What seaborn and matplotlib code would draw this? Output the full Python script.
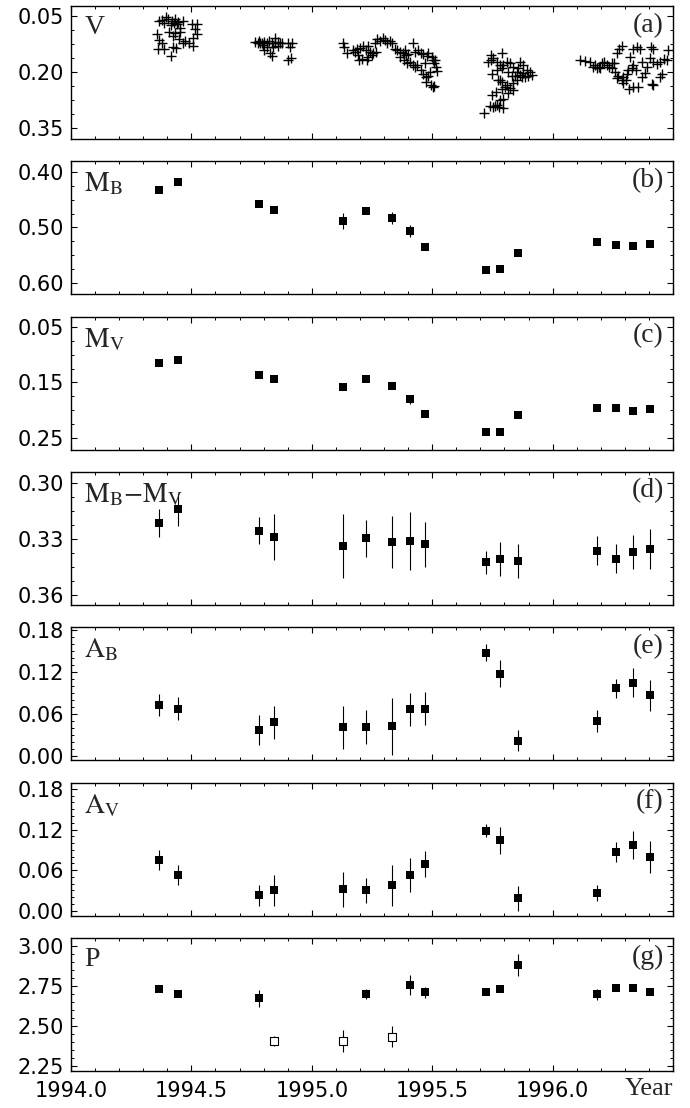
import matplotlib
matplotlib.use("Agg")
import matplotlib.pyplot as plt
import seaborn as sns
import numpy as np
import pandas as pd
from matplotlib.ticker import MultipleLocator, AutoMinorLocator, FixedLocator, FuncFormatter

# ---------------- data ----------------
# panel (a): V light curve (year, mag)
v_year = [
    1994.367, 1994.379, 1994.393, 1994.401, 1994.418, 1994.428, 1994.432, 1994.439, 1994.446, 1994.453,
    1994.453, 1994.432, 1994.422, 1994.356, 1994.367, 1994.377, 1994.363, 1994.386, 1994.414, 1994.425,
    1994.436, 1994.466, 1994.473, 1994.464, 1994.501, 1994.522, 1994.516, 1994.522, 1994.508, 1994.505,
    1994.491, 1994.450, 1994.407, 1994.415, 1994.388,
    1994.766, 1994.781, 1994.794, 1994.803, 1994.812, 1994.821, 1994.836, 1994.849, 1994.858, 1994.876,
    1994.839, 1994.812, 1994.803, 1994.825, 1994.836, 1994.858, 1994.903, 1994.916, 1994.909, 1994.903,
    1994.912, 1994.785, 1994.776, 1994.799, 1994.867, 1994.849,
    1995.131, 1995.134, 1995.145, 1995.170, 1995.179, 1995.186, 1995.193, 1995.197, 1995.207, 1995.200,
    1995.214, 1995.225, 1995.235, 1995.242, 1995.249, 1995.235, 1995.228, 1995.256, 1995.267, 1995.262,
    1995.272, 1995.283, 1995.294, 1995.304, 1995.314, 1995.325, 1995.332, 1995.346, 1995.355, 1995.366,
    1995.377, 1995.387, 1995.391, 1995.401, 1995.419, 1995.429, 1995.443, 1995.452, 1995.462, 1995.477,
    1995.484, 1995.498, 1995.502, 1995.507, 1995.516, 1995.521, 1995.366, 1995.383, 1995.394, 1995.408,
    1995.419, 1995.429, 1995.436, 1995.452, 1995.462, 1995.474, 1995.484, 1995.474, 1995.493, 1995.502,
    1995.507, 1995.470, 1995.491, 1995.512,
    1995.715, 1995.740, 1995.751, 1995.761, 1995.771, 1995.779, 1995.793, 1995.782, 1995.793, 1995.747,
    1995.765, 1995.788, 1995.802, 1995.823, 1995.837, 1995.816, 1995.809, 1995.775, 1995.782, 1995.788,
    1995.747, 1995.768, 1995.788, 1995.782, 1995.795, 1995.809, 1995.823, 1995.837, 1995.733, 1995.743,
    1995.754, 1995.768, 1995.788, 1995.743, 1995.865, 1995.878, 1995.851, 1995.865, 1995.878, 1995.892,
    1995.906, 1995.913, 1995.899, 1995.885, 1995.871, 1995.844, 1995.858, 1995.816, 1995.830, 1995.851,
    1995.837,
    1996.114, 1996.135, 1996.155, 1996.176, 1996.183, 1996.194, 1996.204, 1996.213, 1996.224, 1996.236,
    1996.245, 1996.255, 1996.266, 1996.277, 1996.287, 1996.259, 1996.273, 1996.287, 1996.294, 1996.308,
    1996.315, 1996.328, 1996.322, 1996.335, 1996.349, 1996.363, 1996.318, 1996.335, 1996.356, 1996.370,
    1996.384, 1996.346, 1996.335, 1996.407, 1996.418, 1996.404, 1996.415, 1996.432, 1996.446, 1996.462,
    1996.474, 1996.481, 1996.453, 1996.446, 1996.411, 1996.418, 1996.391, 1996.370, 1996.294, 1996.305,
    1996.266, 1996.245, 1996.197, 1996.169,
]
v_mag = [
    0.0625, 0.0607, 0.0536, 0.0580, 0.0634, 0.0679, 0.0590, 0.0714, 0.0652, 0.0830,
    0.0920, 0.0964, 0.1036, 0.0991, 0.1143, 0.1232, 0.1393, 0.1393, 0.1571, 0.1321,
    0.1366, 0.1214, 0.1161, 0.0625, 0.0714, 0.0714, 0.0857, 0.0982, 0.1098, 0.1304,
    0.1232, 0.1125, 0.0920, 0.0741, 0.0679,
    0.1187, 0.1160, 0.1214, 0.1187, 0.1232, 0.1160, 0.1214, 0.1097, 0.1187, 0.1232,
    0.1322, 0.1322, 0.1413, 0.1503, 0.1575, 0.1304, 0.1214, 0.1214, 0.1341, 0.1666,
    0.1620, 0.1232, 0.1214, 0.1277, 0.1232, 0.1232,
    0.1232, 0.1321, 0.1482, 0.1411, 0.1455, 0.1393, 0.1545, 0.1679, 0.1661, 0.1366,
    0.1304, 0.1411, 0.1304, 0.1455, 0.1545, 0.1589, 0.1679, 0.1500, 0.1455, 0.1214,
    0.1125, 0.1161, 0.1098, 0.1143, 0.1214, 0.1161, 0.1232, 0.1393, 0.1411, 0.1455,
    0.1482, 0.1411, 0.1545, 0.1518, 0.1214, 0.1455, 0.1411, 0.1482, 0.1518, 0.1571,
    0.1482, 0.1589, 0.1679, 0.1768, 0.1857, 0.1964, 0.1589, 0.1679, 0.1768, 0.1723,
    0.1813, 0.1857, 0.1813, 0.1946, 0.2054, 0.2143, 0.2107, 0.2259, 0.2348, 0.2411,
    0.2375, 0.1768, 0.1991, 0.1679,
    0.3089, 0.2911, 0.2929, 0.2911, 0.2884, 0.2946, 0.2973, 0.2750, 0.2732, 0.2616,
    0.2527, 0.2464, 0.2411, 0.2438, 0.2482, 0.2571, 0.2348, 0.2214, 0.2214, 0.2259,
    0.2054, 0.1946, 0.1902, 0.1813, 0.1813, 0.1723, 0.1768, 0.1857, 0.1723, 0.1679,
    0.1634, 0.1723, 0.1500, 0.1545, 0.1723, 0.1813, 0.1991, 0.2080, 0.2018, 0.1946,
    0.1991, 0.2080, 0.2107, 0.2143, 0.2125, 0.2107, 0.1902, 0.1991, 0.2107, 0.2214,
    0.2304,
    0.1679, 0.1696, 0.1723, 0.1813, 0.1902, 0.1857, 0.1768, 0.1723, 0.1813, 0.1857,
    0.1902, 0.1768, 0.1500, 0.1393, 0.1304, 0.1991, 0.2107, 0.2214, 0.2143, 0.2054,
    0.1946, 0.1902, 0.1589, 0.1393, 0.1339, 0.1393, 0.2464, 0.2411, 0.2411, 0.2143,
    0.2036, 0.1946, 0.1813, 0.1321, 0.1393, 0.1634, 0.1723, 0.1786, 0.1723, 0.1661,
    0.1679, 0.1411, 0.2054, 0.2143, 0.2321, 0.2357, 0.1857, 0.1723, 0.2304, 0.2214,
    0.2170, 0.1768, 0.1902, 0.1857,
]

# epochs of the seasonal fits (panels b-g)
epoch = [1994.365, 1994.443, 1994.781, 1994.845, 1995.131, 1995.226, 1995.334, 1995.409,
         1995.469, 1995.724, 1995.783, 1995.858, 1996.184, 1996.263, 1996.334, 1996.405]

mb = [0.4324, 0.4186, 0.4580, 0.4688, 0.4885, 0.4706, 0.4831, 0.5064,
      0.5350, 0.5762, 0.5744, 0.5458, 0.5260, 0.5315, 0.5339, 0.5290]
mb_err = [0.004, 0.004, 0.005, 0.006, 0.014, 0.006, 0.010, 0.010,
          0.006, 0.004, 0.004, 0.004, 0.004, 0.004, 0.004, 0.004]

mv = [0.1152, 0.1098, 0.1367, 0.1438, 0.1582, 0.1438, 0.1564, 0.1797,
      0.2065, 0.2388, 0.2388, 0.2083, 0.1958, 0.1958, 0.2006, 0.1976]
mv_err = [0.004, 0.004, 0.004, 0.004, 0.006, 0.004, 0.005, 0.008,
          0.004, 0.004, 0.004, 0.004, 0.004, 0.004, 0.004, 0.004]

bv = [0.3215, 0.3140, 0.3255, 0.3290, 0.3337, 0.3296, 0.3317, 0.3308,
      0.3328, 0.3425, 0.3409, 0.3418, 0.3362, 0.3405, 0.3368, 0.3355]
bv_err = [0.0075, 0.0087, 0.0073, 0.0124, 0.0173, 0.0099, 0.0139, 0.0155,
          0.0121, 0.0064, 0.0091, 0.0090, 0.0078, 0.0078, 0.0090, 0.0107]

ab = [0.0728, 0.0681, 0.0379, 0.0487, 0.0417, 0.0417, 0.0426, 0.0671,
      0.0681, 0.1478, 0.1180, 0.0223, 0.0506, 0.0968, 0.1049, 0.0869]
ab_err = [0.0160, 0.0165, 0.0212, 0.0236, 0.0307, 0.0243, 0.0410, 0.0236,
          0.0240, 0.0125, 0.0189, 0.0146, 0.0160, 0.0130, 0.0210, 0.0220]

av = [0.0751, 0.0528, 0.0226, 0.0300, 0.0315, 0.0300, 0.0374, 0.0528,
      0.0687, 0.1183, 0.1044, 0.0186, 0.0260, 0.0870, 0.0969, 0.0796]
av_err = [0.0144, 0.0149, 0.0161, 0.0230, 0.0260, 0.0180, 0.0297, 0.0248,
          0.0190, 0.0097, 0.0198, 0.0183, 0.0114, 0.0146, 0.0206, 0.0240]

p_year = [1994.365, 1994.443, 1994.781, 1995.226, 1995.409, 1995.469, 1995.724,
          1995.783, 1995.858, 1996.184, 1996.263, 1996.334, 1996.405]
p_val = [2.729, 2.698, 2.673, 2.698, 2.754, 2.710, 2.715, 2.729, 2.881, 2.698, 2.735, 2.735, 2.715]
p_err = [0.012, 0.012, 0.054, 0.030, 0.062, 0.036, 0.012, 0.012, 0.068, 0.033, 0.012, 0.012, 0.012]
p2_year = [1994.845, 1995.131, 1995.334]
p2_val = [2.406, 2.406, 2.433]
p2_err = [0.030, 0.068, 0.066]

panel_names = ["V", r"$\mathrm{M_B}$", r"$\mathrm{M_V}$", r"$\mathrm{M_B{-}M_V}$",
               r"$\mathrm{A_B}$", r"$\mathrm{A_V}$", "P"]
panel_tags = ["(a)", "(b)", "(c)", "(d)", "(e)", "(f)", "(g)"]
y_ticks = [[0.05, 0.20, 0.35], [0.40, 0.50, 0.60], [0.05, 0.15, 0.25], [0.30, 0.33, 0.36],
           [0.00, 0.06, 0.12, 0.18], [0.00, 0.06, 0.12, 0.18], [2.25, 2.50, 2.75, 3.00]]
y_lims = [(0.3795, 0.0232), (0.6197, 0.3814), (0.2703, 0.0319), (0.3653, 0.2939),
          (-0.0055, 0.1840), (-0.0070, 0.1895), (2.220, 3.051)]
y_minor = [4, 4, 4, 4, 6, 6, 5]
x_labels = ["1994.0", "1994.5", "1995.0", "1995.5", "1996.0"]

# ---------------- style ----------------
sns.set_theme(style="ticks")
plt.rcParams.update({
    "font.family": ["DejaVu Sans"],
    "mathtext.fontset": "stix",
    "axes.linewidth": 1.0,
    "axes.edgecolor": "black",
    "xtick.direction": "in", "ytick.direction": "in",
    "xtick.top": True, "ytick.right": True,
    "xtick.major.size": 4.0, "ytick.major.size": 4.5,
    "xtick.minor.size": 2.0, "ytick.minor.size": 2.2,
    "xtick.major.width": 0.8, "ytick.major.width": 0.8,
    "xtick.minor.width": 0.7, "ytick.minor.width": 0.7,
    "xtick.color": "black", "ytick.color": "black",
})

W, H = 690, 1108
fig = plt.figure(figsize=(W / 100, H / 100), dpi=100)
fig.patch.set_facecolor("white")

serif = ["Liberation Serif", "DejaVu Serif"]
axes = []
for i in range(7):
    top = 6 + i * 155.3
    ax = fig.add_axes([71 / W, 1 - (top + 133) / H, 602 / W, 133 / H])
    ax.set_facecolor("white")
    axes.append(ax)

def squares(ax, x, y, err, filled=True):
    ax.errorbar(x, y, yerr=err, fmt="none", ecolor="black", elinewidth=0.8,
                capsize=0, zorder=2)
    if filled:
        sns.scatterplot(x=x, y=y, marker="s", s=40, color="black", edgecolor="black",
                        linewidth=0, zorder=3, ax=ax, legend=False)
    else:
        sns.scatterplot(x=x, y=y, marker="s", s=30, color="white", edgecolor="black",
                        linewidth=0.8, zorder=3, ax=ax, legend=False)

# (a)
sns.scatterplot(x=v_year, y=v_mag, marker="+", s=42, color="black", linewidth=1.0,
                ax=axes[0], legend=False, zorder=3)
squares(axes[1], epoch, mb, mb_err)
squares(axes[2], epoch, mv, mv_err)
squares(axes[3], epoch, bv, bv_err)
squares(axes[4], epoch, ab, ab_err)
squares(axes[5], epoch, av, av_err)
squares(axes[6], p_year, p_val, p_err)
squares(axes[6], p2_year, p2_val, p2_err, filled=False)

for i, ax in enumerate(axes):
    ax.set_xlim(1994.0, 1996.5)
    ax.set_ylim(*y_lims[i])
    ax.xaxis.set_major_locator(MultipleLocator(0.5))
    ax.xaxis.set_minor_locator(MultipleLocator(0.1))
    ax.yaxis.set_major_locator(FixedLocator(y_ticks[i]))
    ax.yaxis.set_minor_locator(AutoMinorLocator(y_minor[i]))
    ax.yaxis.set_major_formatter(FuncFormatter(lambda v, p: f"{v:.2f}"))
    ax.tick_params(axis="both", which="both", top=True, right=True, direction="in")
    ax.tick_params(axis="y", labelsize=15, pad=5)
    ax.tick_params(axis="x", labelsize=15, pad=7)
    ax.set_xlabel("")
    ax.set_ylabel("")
    for s in ax.spines.values():
        s.set_visible(True)
        s.set_linewidth(1.0)
        s.set_color("black")
    ax.text(0.022, 0.93, panel_names[i], transform=ax.transAxes, ha="left", va="top",
            fontsize=20, family=serif)
    ax.text(0.985, 0.95, panel_tags[i], transform=ax.transAxes, ha="right", va="top",
            fontsize=20, family=serif)
    if i < 6:
        ax.tick_params(axis="x", labelbottom=False)
    else:
        ax.xaxis.set_major_formatter(FuncFormatter(
            lambda v, p: x_labels[int(round((v - 1994.0) / 0.5))]
            if 0 <= int(round((v - 1994.0) / 0.5)) < len(x_labels) else ""))

fig.text(673 / W, 1 - 1089 / H, "Year", ha="right", va="center", fontsize=19, family=serif)

fig.savefig("out.png", dpi=100, facecolor="white")
